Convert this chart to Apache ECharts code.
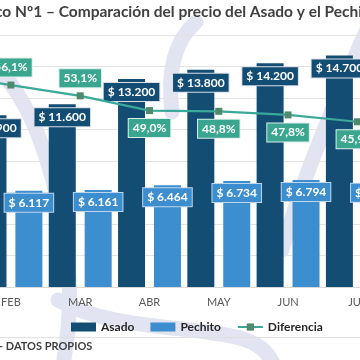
<!DOCTYPE html>
<html>
<head>
<meta charset="utf-8">
<script src="https://cdn.jsdelivr.net/npm/echarts@6/dist/echarts.min.js"></script>
<style>
html,body{margin:0;padding:0;background:#ffffff;overflow:hidden;width:360px;height:360px;}
#chart{position:absolute;left:-120px;top:0;width:600px;height:360px;}
</style>
</head>
<body>
<div id="chart"></div>
<script>
var months = ['ENE', 'FEB', 'MAR', 'ABR', 'MAY', 'JUN', 'JUL'];
var asado = [10400, 10900, 11600, 13200, 13800, 14200, 14700];
var pechito = [6150, 6117, 6161, 6464, 6734, 6794, 6747];
var diferencia = [59.1, 56.1, 53.1, 49.0, 48.8, 47.8, 45.9];
var diferenciaLabelPos = ['top', 'top', 'top', 'bottom', 'bottom', 'bottom', 'bottom'];
var titleText = 'Gráfico Nº1 – Comparación del precio del Asado y el Pechito';
var sourceText = '- DATOS PROPIOS';

var OX = 120; // container offset (container is shifted left by OX px)
var FONT = 'Lato, "Open Sans", sans-serif';
function money(v) {
  return '$ ' + String(v).replace(/\B(?=(\d{3})+(?!\d))/g, '.');
}
function pct(v) {
  return v.toFixed(1).replace('.', ',') + '%';
}
// faint watermark strokes (decorative background logo)
function wm(x1, y1, c1x, c1y, c2x, c2y, x2, y2) {
  return {type: 'bezierCurve', z: -10, silent: true, x: OX, y: 0,
    shape: {x1: x1, y1: y1, cpx1: c1x, cpy1: c1y, cpx2: c2x, cpy2: c2y, x2: x2, y2: y2},
    style: {fill: null, stroke: '#e2e4f2', lineWidth: 15, lineCap: 'round'}};
}

var chart = echarts.init(document.getElementById('chart'), null, {renderer: 'canvas'});
var option = {
  animation: false,
  backgroundColor: '#ffffff',
  textStyle: {fontFamily: FONT},
  grid: {left: OX - 93, top: 35, width: 485, height: 252, containLabel: false},
  legend: {
    left: OX + 66, top: 316,
    itemWidth: 25, itemHeight: 9, itemGap: 16,
    textStyle: {fontFamily: FONT, fontSize: 12, fontWeight: 'bold', color: '#262626'},
    data: [
      {name: 'Asado', icon: 'rect'},
      {name: 'Pechito', icon: 'rect'},
      {name: 'Diferencia'}
    ]
  },
  xAxis: {
    type: 'category',
    data: months,
    axisLine: {show: true, lineStyle: {color: '#d9d9d9'}},
    axisTick: {show: false},
    axisLabel: {color: '#595959', fontSize: 11, margin: 10, fontFamily: FONT}
  },
  yAxis: [
    {
      type: 'value', min: 0, max: 16000, interval: 2000,
      axisLabel: {show: false}, axisLine: {show: false}, axisTick: {show: false},
      splitLine: {lineStyle: {color: '#e3e3e3', width: 1}}
    },
    {
      type: 'value', min: 0, max: 70, interval: 10,
      axisLabel: {show: false}, axisLine: {show: false}, axisTick: {show: false},
      splitLine: {show: false}
    }
  ],
  series: [
    {
      name: 'Asado', type: 'bar', data: asado,
      barWidth: 27, barGap: '33%',
      itemStyle: {color: '#134d74'},
      label: {
        show: true, position: 'insideTop', distance: 4,
        formatter: function (p) { return money(p.value); },
        color: '#ffffff', fontSize: 12, fontFamily: FONT, fontWeight: 'bold',
        backgroundColor: '#134d74', borderColor: '#d6dee6', borderWidth: 1,
        padding: [2, 4, 2, 4], lineHeight: 14
      },
      z: 2
    },
    {
      name: 'Pechito', type: 'bar', data: pechito,
      barWidth: 27,
      itemStyle: {color: '#3d8ecf'},
      label: {
        show: true, position: 'insideTop', distance: 3,
        formatter: function (p) { return money(p.value); },
        color: '#ffffff', fontSize: 12, fontFamily: FONT, fontWeight: 'bold',
        backgroundColor: '#3d8ecf', borderColor: '#bcd6ee', borderWidth: 1,
        padding: [2, 4, 2, 4], lineHeight: 14
      },
      z: 2
    },
    {
      name: 'Diferencia', type: 'line', yAxisIndex: 1,
      data: diferencia.map(function (v, i) {
        return {value: v, label: {position: diferenciaLabelPos[i]}};
      }),
      symbol: 'rect', symbolSize: 7,
      lineStyle: {color: '#3aa999', width: 2.2},
      itemStyle: {color: '#4f8a6c'},
      label: {
        show: true, distance: 5,
        formatter: function (p) { return pct(p.value); },
        color: '#ffffff', fontSize: 12, fontFamily: FONT, fontWeight: 'bold',
        backgroundColor: '#3aa690', borderColor: '#d9efe9', borderWidth: 1,
        padding: [2, 4, 2, 4], lineHeight: 14
      },
      z: 5
    }
  ],
  graphic: [
    wm(-10, 62, 25, 90, 48, 150, 62, 220),
    wm(62, 220, 72, 270, 72, 320, 62, 370),
    wm(58, 300, 110, 330, 190, 325, 240, 338),
    wm(240, 338, 262, 344, 272, 356, 276, 372),
    wm(172, 112, 168, 80, 170, 45, 196, 22),
    wm(372, 18, 340, 90, 305, 170, 282, 250),
    {type: 'text', x: OX + 169, y: 4, style: {text: titleText, textAlign: 'center', fill: '#404040', font: 'bold 15.5px ' + FONT}},
    {type: 'line', shape: {x1: 0, y1: 337.5, x2: 600, y2: 337.5}, style: {stroke: '#e0e0e0', lineWidth: 1}},
    {type: 'text', x: OX - 1, y: 341, style: {text: sourceText, fill: '#404040', font: 'bold 11px ' + FONT}}
  ]
};
chart.setOption(option);
</script>
</body>
</html>
